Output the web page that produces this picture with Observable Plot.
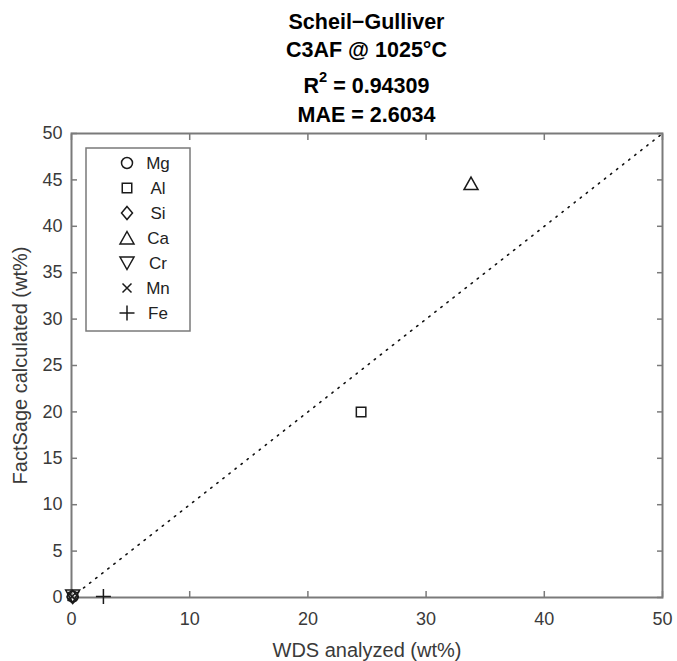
<!DOCTYPE html>
<html>
<head>
<meta charset="utf-8">
<script src="https://cdn.jsdelivr.net/npm/d3@7"></script>
<script src="https://cdn.jsdelivr.net/npm/@observablehq/plot@0.6"></script>
<style>
  html, body { margin: 0; padding: 0; background: #fff; }
  #wrap { width: 677px; height: 661px; position: relative; }
  #title { position: relative; width: 677px; height: 128px; font-family: "Liberation Sans", Arial, sans-serif; font-weight: bold; font-size: 21.5px; color: #000; }
  #title div { position: absolute; left: 71px; width: 591px; text-align: center; line-height: 20px; white-space: nowrap; }
  #title sup { font-size: 0.68em; position: relative; top: -0.2em; line-height: 0; vertical-align: super; }
  svg { display: block; }
</style>
</head>
<body>
<div id="wrap">
  <div id="title">
    <div style="top:12px">Scheil−Gulliver</div>
    <div style="top:40px">C3AF @ 1025°C</div>
    <div style="top:76px">R<sup>2</sup> = 0.94309</div>
    <div style="top:105px">MAE = 2.6034</div>
  </div>
  <div id="chart"></div>
</div>
<script>
// ---- data ----
const elements = ["Mg", "Al", "Si", "Ca", "Cr", "Mn", "Fe"];
const wdsAnalyzed = [0.1, 24.5, 0.1, 33.8, 0.1, 0.05, 2.7];
const factSageCalc = [0.1, 20.0, 0.05, 44.6, 0.15, 0.1, 0.1];
const xTicks = [0, 10, 20, 30, 40, 50];
const yTicks = [0, 5, 10, 15, 20, 25, 30, 35, 40, 45, 50];
const identityLine = [0, 50];
const xLabel = "WDS analyzed (wt%)";
const yLabel = "FactSage calculated (wt%)";

const rows = elements.map((el, i) => ({element: el, x: wdsAnalyzed[i], y: factSageCalc[i]}));

// ---- MATLAB-like marker shapes ----
const shapes = {
  Mg: {draw(c) { c.moveTo(5.5, 0); c.arc(0, 0, 5.5, 0, 2 * Math.PI); c.closePath(); }},
  Al: {draw(c) { c.rect(-4.75, -4.75, 9.5, 9.5); }},
  Si: {draw(c) { c.moveTo(0, -6.5); c.lineTo(5.5, 0); c.lineTo(0, 6.5); c.lineTo(-5.5, 0); c.closePath(); }},
  Ca: {draw(c) { c.moveTo(0, -6.5); c.lineTo(7, 6); c.lineTo(-7, 6); c.closePath(); }},
  Cr: {draw(c) { c.moveTo(0, 6.5); c.lineTo(7, -6); c.lineTo(-7, -6); c.closePath(); }},
  Mn: {draw(c) { c.moveTo(-4.5, -4.5); c.lineTo(4.5, 4.5); c.moveTo(4.5, -4.5); c.lineTo(-4.5, 4.5); }},
  Fe: {draw(c) { c.moveTo(-7.5, 0); c.lineTo(7.5, 0); c.moveTo(0, -7.5); c.lineTo(0, 7.5); }}
};

const axisColor = "#7a7a7a";
const textColor = "#3a3a3a";
const fontSize = 18;
const labelSize = 20;

const marginLeft = 71, marginRight = 15, marginTop = 5, marginBottom = 64;

const chart = Plot.plot({
  width: 677,
  height: 533,
  marginLeft, marginRight, marginTop, marginBottom,
  style: {fontFamily: "'Liberation Sans', Arial, sans-serif", fontSize: fontSize + "px", color: textColor, background: "#fff", overflow: "visible"},
  x: {domain: [0, 50], label: null},
  y: {domain: [0, 50], label: null},
  marks: [
    // identity (dotted)
    Plot.line(identityLine, {x: d => d, y: d => d, stroke: "#111", strokeWidth: 1.6, strokeDasharray: "1.4 6.3"}),
    // inward ticks on all sides
    Plot.axisX(xTicks, {anchor: "bottom", tickSize: 6, dy: -6, tickFormat: () => "", stroke: axisColor, strokeWidth: 1.5}),
    Plot.axisX(xTicks, {anchor: "top", tickSize: 6, dy: 6, tickFormat: () => "", stroke: axisColor, strokeWidth: 1.5}),
    Plot.axisY(yTicks, {anchor: "left", tickSize: 6, dx: 6, tickFormat: () => "", stroke: axisColor, strokeWidth: 1.5}),
    Plot.axisY(yTicks, {anchor: "right", tickSize: 6, dx: -6, tickFormat: () => "", stroke: axisColor, strokeWidth: 1.5}),
    // tick labels
    Plot.axisX(xTicks, {anchor: "bottom", tickSize: 0, tickPadding: 15, fontSize, fill: textColor}),
    Plot.axisY(yTicks, {anchor: "left", tickSize: 0, tickPadding: 9, fontSize, fill: textColor}),
    Plot.frame({stroke: axisColor, strokeWidth: 2}),
    // axis labels
    Plot.text([xLabel], {frameAnchor: "bottom", dy: 53, textAnchor: "middle", lineAnchor: "middle", text: d => d, fontSize: labelSize, fill: textColor}),
    Plot.text([yLabel], {frameAnchor: "left", dx: -51, rotate: -90, textAnchor: "middle", lineAnchor: "middle", text: d => d, fontSize: labelSize, fill: textColor}),
    // data markers, one mark per element
    ...rows.map(r => Plot.dot([r], {x: "x", y: "y", symbol: shapes[r.element], r: 5, stroke: "#1a1a1a", strokeWidth: 1.5, fill: "none"}))
  ]
});

// ---- legend (inside the axes, top-left) ----
const svg = d3.select(chart);
const lg = svg.append("g").attr("class", "legend");
const lx = marginLeft + 15, ly = marginTop + 15, lw = 104, lh = 183;
lg.append("rect").attr("x", lx).attr("y", ly).attr("width", lw).attr("height", lh)
  .attr("fill", "#fff").attr("stroke", axisColor).attr("stroke-width", 1.5);
elements.forEach((el, i) => {
  const cy = ly + 15 + 25 * i;
  lg.append("path")
    .attr("d", d3.symbol(shapes[el], 64)())
    .attr("transform", `translate(${lx + 41},${cy})`)
    .attr("fill", "none").attr("stroke", "#1a1a1a").attr("stroke-width", 1.5);
  lg.append("text")
    .attr("x", lx + 72).attr("y", cy).attr("dy", "0.35em")
    .attr("font-size", 17).attr("fill", "#222")
    .text(el);
});

document.getElementById("chart").appendChild(chart);
</script>
</body>
</html>
